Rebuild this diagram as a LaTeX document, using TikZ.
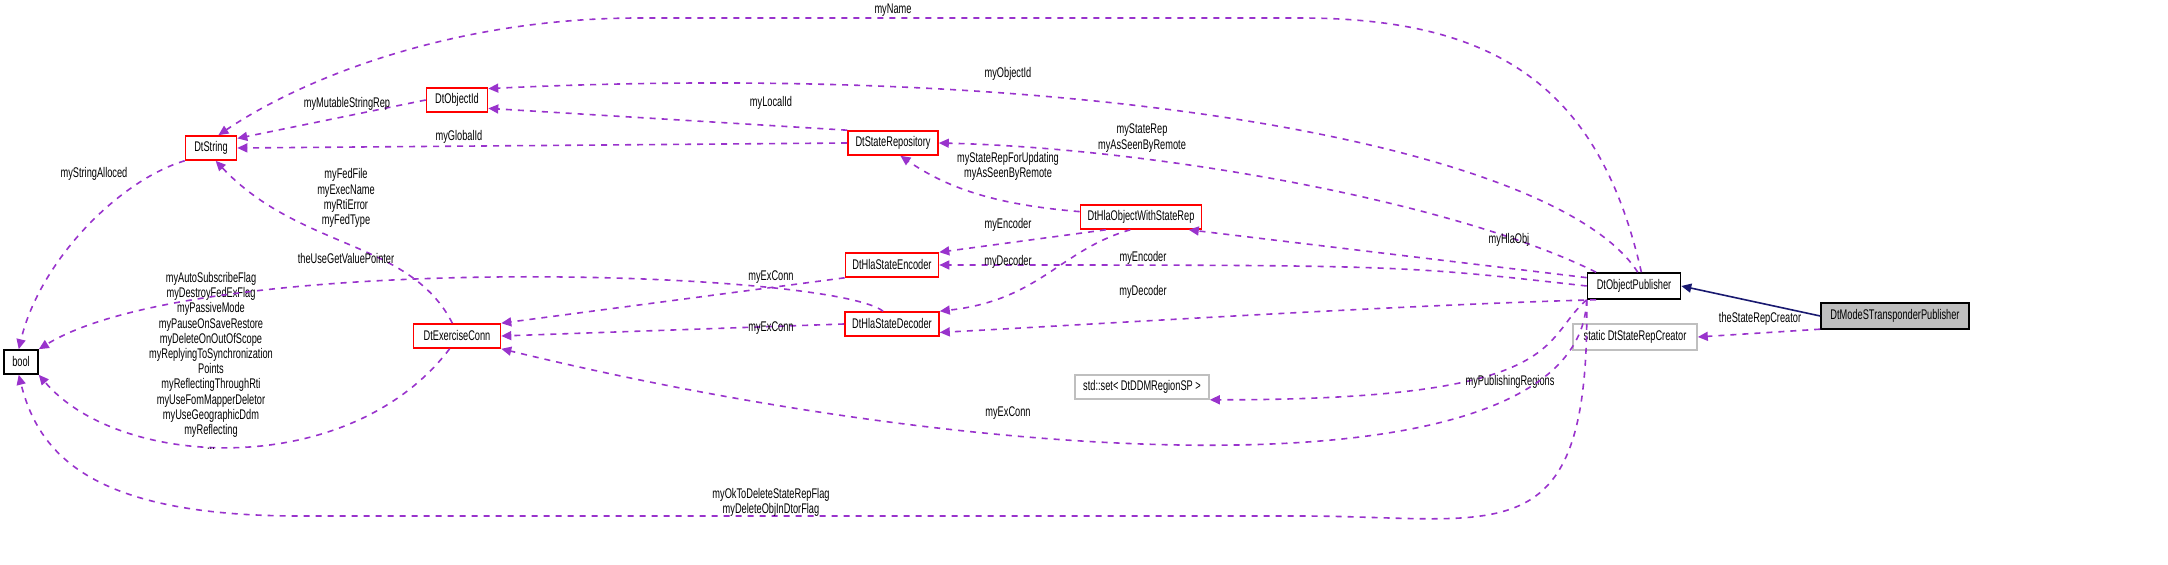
\documentclass[tikz,border=0pt]{standalone}
\usepackage{fontspec}
\setmainfont{Liberation Sans}[FakeStretch=0.66]
\usetikzlibrary{arrows.meta}
\definecolor{memberpurple}{rgb}{0.60, 0.20, 0.80}
\definecolor{inheritnavy}{rgb}{0.10, 0.10, 0.44}
\definecolor{boxgrey}{rgb}{0.75, 0.75, 0.75}

\begin{document}
\begin{tikzpicture}[x=0.5pt, y=-0.5pt, font=\fontsize{7}{7.6}\selectfont,
	cls/.style={draw=red, fill=white, thick, minimum height=12pt, inner sep=1pt},
	plain/.style={draw=black, fill=white, thick, minimum height=12pt, inner sep=1pt},
	ext/.style={draw=boxgrey, fill=white, thick, minimum height=12pt, inner sep=1pt},
	member/.style={draw=memberpurple, dashed, thick, -{Triangle[length=5pt,width=4.5pt]}},
	inherit/.style={draw=inheritnavy, thick, -{Triangle[length=5pt,width=4.5pt]}},
	lbl/.style={align=center, inner sep=0pt}]
	\useasboundingbox (0,0) rectangle (2168,565);
	% classes
	\node [plain, minimum width=17pt] (bool) at (21,362) {bool};
	\node [cls, minimum width=25.5pt] (str) at (211,148) {DtString};
	\node [cls, minimum width=30.5pt] (oid) at (457,100) {DtObjectId};
	\node [cls, minimum width=45pt] (sr) at (893,143) {DtStateRepository};
	\node [cls, minimum width=60.5pt] (hla) at (1141,217) {DtHlaObjectWithStateRep};
	\node [cls, minimum width=46.5pt] (enc) at (892,265) {DtHlaStateEncoder};
	\node [cls, minimum width=47pt] (dec) at (892,324) {DtHlaStateDecoder};
	\node [cls, minimum width=43.5pt] (ec) at (457,336) {DtExerciseConn};
	\node [ext, minimum width=67pt] (set) at (1142,387) {std::set\textless{} DtDDMRegionSP \textgreater};
	\node [plain, minimum width=46.5pt, minimum height=13pt] (pub) at (1634,286) {DtObjectPublisher};
	\node [ext, minimum width=62pt, minimum height=13pt] (st) at (1635,337) {static DtStateRepCreator};
	\node [plain, fill=boxgrey, minimum width=74pt, minimum height=13pt] (ms) at (1895,316) {DtModeSTransponderPublisher};
	% inheritance
	\draw [inherit] (ms.west) -- (pub.east);
	% members of DtModeSTransponderPublisher
	\draw [member] (ms.190) -- (st.east);
	\node [lbl] at (1760,319) {theStateRepCreator};
	% members of DtObjectPublisher
	\draw [member] (pub.62) .. controls (1600,90) and (1500,18) .. (1300,18) -- (640,18) .. controls (450,18) and (300,80) .. (str.60);
	\node [lbl] at (893,10) {myName};
	\draw [member] (pub.75) .. controls (1560,150) and (1100,60) .. (oid.20);
	\node [lbl] at (1008,74) {myObjectId};
	\draw [member] (pub.160) .. controls (1450,200) and (1150,148) .. (sr.east);
	\node [lbl] at (1142,138) {myStateRep\\myAsSeenByRemote};
	\draw [member] (pub.170) -- (hla.-15);
	\node [lbl] at (1509,240) {myHlaObj};
	\draw [member] (pub.west) .. controls (1400,265) .. (enc.east);
	\node [lbl] at (1143,258) {myEncoder};
	\draw [member] (pub.200) .. controls (1400,305) and (1100,324) .. (dec.-10);
	\node [lbl] at (1143,292) {myDecoder};
	\draw [member] (pub.south west) .. controls (1540,340) and (1570,400) .. (set.south east);
	\node [lbl] at (1510,382) {myPublishingRegions};
	\draw [member] (pub.south west) .. controls (1580,500) and (1000,470) .. (ec.south east);
	\node [lbl] at (1008,413) {myExConn};
	\draw [member] (pub.south west) .. controls (1590,560) and (1500,516) .. (1300,516) -- (300,516) .. controls (100,516) and (40,460) .. (bool.-100);
	\node [lbl] at (771,502) {myOkToDeleteStateRepFlag\\myDeleteObjInDtorFlag};
	% members of the other classes
	\draw [member] (oid.west) -- (str.20);
	\node [lbl] at (347,104) {myMutableStringRep};
	\draw [member] (sr.north west) -- (oid.-15);
	\node [lbl] at (771,103) {myLocalId};
	\draw [member] (sr.west) -- (str.east);
	\node [lbl] at (459,137) {myGlobalId};
	\draw [member] (str.south west) .. controls (120,180) and (40,260) .. (bool.100);
	\node [lbl] at (94,174) {myStringAlloced};
	\draw [member] (ec.110) .. controls (410,240) and (300,250) .. (str.-70);
	\node [lbl] at (346,198) {myFedFile\\myExecName\\myRtiError\\myFedType};
	\draw [member] (ec.-120) .. controls (350,480) and (120,470) .. (bool.south east);
	\node [lbl] at (211,361) {myAutoSubscribeFlag\\myDestroyFedExFlag\\myPassiveMode\\myPauseOnSaveRestore\\myDeleteOnOutOfScope\\myReplyingToSynchronization\\Points\\myReflectingThroughRti\\myUseFomMapperDeletor\\myUseGeographicDdm\\myReflecting\\...};
	\draw [member] (dec.125) .. controls (830,270) and (200,250) .. (bool.north east);
	\node [lbl] at (346,259) {theUseGetValuePointer};
	\draw [member] (enc.south west) -- (ec.north east);
	\node [lbl] at (771,277) {myExConn};
	\draw [member] (dec.west) -- (ec.east);
	\node [lbl] at (771,328) {myExConn};
	\draw [member] (hla.175) .. controls (1000,205) and (950,190) .. (sr.-60);
	\node [lbl] at (1008,166) {myStateRepForUpdating\\myAsSeenByRemote};
	\draw [member] (hla.-160) -- (enc.north east);
	\node [lbl] at (1008,225) {myEncoder};
	\draw [member] (hla.-130) .. controls (1060,250) and (1040,300) .. (dec.north east);
	\node [lbl] at (1008,262) {myDecoder};
\end{tikzpicture}
\end{document}
